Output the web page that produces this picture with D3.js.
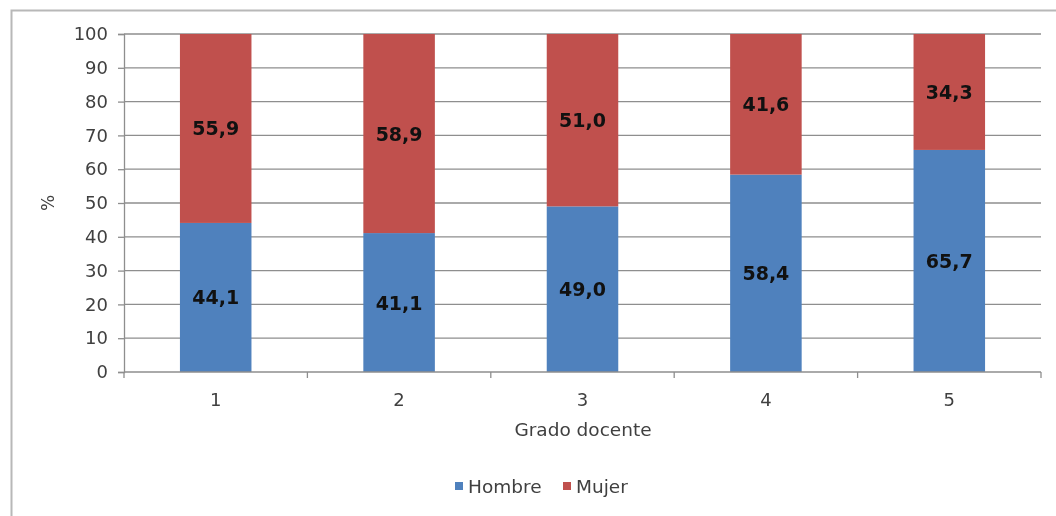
<!DOCTYPE html>
<html>
<head>
<meta charset="utf-8">
<script src="https://cdn.jsdelivr.net/npm/d3@7"></script>
<style>
  html, body { margin: 0; padding: 0; background: #fff; }
  svg { display: block; filter: blur(0.7px); }
</style>
</head>
<body>
<svg id="chart" width="1056" height="516"></svg>
<script>
// Distribución por sexo según grado docente (%)
const categories = ["1", "2", "3", "4", "5"];
const hombre = [44.1, 41.1, 49.0, 58.4, 65.7];
const mujer = [55.9, 58.9, 51.0, 41.6, 34.3];
const seriesNames = ["Hombre", "Mujer"];
const seriesColors = ["#4F81BD", "#C0504D"];
const yTicks = [0, 10, 20, 30, 40, 50, 60, 70, 80, 90, 100];

const svg = d3.select("#chart");
const W = 1056, H = 516;
const margin = { left: 124, right: 15, top: 34, bottom: 144 };
const font = "Verdana, 'DejaVu Sans', sans-serif";
const textColor = "#404040";
const lineColor = "#8e8e8e";

// outer frame
svg.append("rect").attr("x", 11.5).attr("y", 10.5).attr("width", W - 8).attr("height", H - 4)
  .attr("fill", "#fff").attr("stroke", "#b8b8b8").attr("stroke-width", 2);

const x = d3.scaleBand().domain(categories).range([margin.left, W - margin.right]).paddingInner(0.61).paddingOuter(0.305);
const y = d3.scaleLinear().domain([0, 100]).range([H - margin.bottom, margin.top]);

// gridlines
svg.append("g").selectAll("line").data(yTicks.filter(d => d > 0)).join("line")
  .attr("x1", margin.left).attr("x2", W - margin.right)
  .attr("y1", d => y(d)).attr("y2", d => y(d))
  .attr("stroke", lineColor).attr("stroke-width", 1.3);

// stacked data
const rows = categories.map((c, i) => ({ cat: c, Hombre: hombre[i], Mujer: mujer[i] }));
const stack = d3.stack().keys(seriesNames)(rows);

const groups = svg.append("g").selectAll("g").data(stack).join("g")
  .attr("fill", (d, i) => seriesColors[i]);
groups.selectAll("rect").data(d => d).join("rect")
  .attr("x", d => x(d.data.cat))
  .attr("width", x.bandwidth())
  .attr("y", d => y(d[1]))
  .attr("height", d => y(d[0]) - y(d[1]));

// value labels
const fmt = v => v.toFixed(1).replace(".", ",");
groups.selectAll("text").data(d => d).join("text")
  .attr("x", d => x(d.data.cat) + x.bandwidth() / 2)
  .attr("y", d => y((d[0] + d[1]) / 2) + 7)
  .attr("text-anchor", "middle")
  .attr("fill", "#111")
  .attr("font-family", font).attr("font-weight", "bold").attr("font-size", 19)
  .text(d => fmt(d[1] - d[0]));

// y axis
const yAxis = svg.append("g").attr("transform", `translate(${margin.left},0)`)
  .call(d3.axisLeft(y).tickValues(yTicks).tickSize(6).tickPadding(10));
yAxis.select(".domain").attr("stroke", lineColor).attr("stroke-width", 1.3);
yAxis.selectAll(".tick line").attr("stroke", lineColor).attr("stroke-width", 1.3);
yAxis.selectAll("text").attr("font-family", font).attr("font-size", 18).attr("fill", textColor);

// x axis: ticks at category boundaries
const xAxisG = svg.append("g").attr("transform", `translate(0,${y(0)})`);
xAxisG.append("line").attr("x1", margin.left).attr("x2", W - margin.right)
  .attr("stroke", lineColor).attr("stroke-width", 1.3);
const step = x.step();
const bounds = d3.range(categories.length + 1).map(i => margin.left + i * step);
xAxisG.selectAll(".bt").data(bounds).join("line").attr("class", "bt")
  .attr("x1", d => d).attr("x2", d => d).attr("y1", 0).attr("y2", 6)
  .attr("stroke", lineColor).attr("stroke-width", 1.3);
xAxisG.selectAll("text").data(categories).join("text")
  .attr("x", d => x(d) + x.bandwidth() / 2).attr("y", 34)
  .attr("text-anchor", "middle")
  .attr("font-family", font).attr("font-size", 18).attr("fill", textColor)
  .text(d => d);

// axis titles
svg.append("text").attr("transform", `translate(54,${(y(0) + y(100)) / 2}) rotate(-90)`)
  .attr("text-anchor", "middle").attr("font-family", font).attr("font-size", 17).attr("fill", textColor)
  .text("%");
svg.append("text").attr("x", 583).attr("y", 436).attr("text-anchor", "middle")
  .attr("font-family", font).attr("font-size", 18.5).attr("fill", textColor)
  .text("Grado docente");

// legend
const legendItems = [
  { name: seriesNames[0], color: seriesColors[0], x: 455 },
  { name: seriesNames[1], color: seriesColors[1], x: 563 }
];
const lg = svg.append("g").selectAll("g").data(legendItems).join("g")
  .attr("transform", d => `translate(${d.x},486)`);
lg.append("rect").attr("x", 0).attr("y", -4).attr("width", 8).attr("height", 8).attr("fill", d => d.color);
lg.append("text").attr("x", 13).attr("y", 7)
  .attr("font-family", font).attr("font-size", 18.5).attr("fill", textColor)
  .text(d => d.name);
</script>
</body>
</html>
